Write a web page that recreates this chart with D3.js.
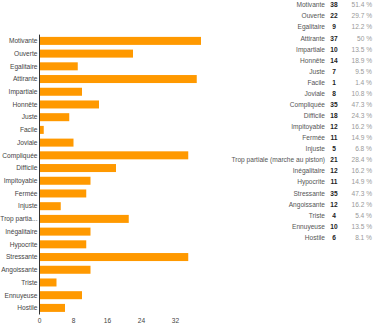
<!DOCTYPE html>
<html><head><meta charset="utf-8">
<script src="https://cdn.jsdelivr.net/npm/d3@7"></script>
<style>html,body{margin:0;padding:0;background:#fff;}svg{display:block;}</style>
</head><body>
<script>
const categories = ["Motivante","Ouverte","Egalitaire","Attirante","Impartiale","Honnête","Juste","Facile","Joviale","Compliquée","Difficile","Impitoyable","Fermée","Injuste","Trop partiale (marche au piston)","Inégalitaire","Hypocrite","Stressante","Angoissante","Triste","Ennuyeuse","Hostile"];
const shortLabels = ["Motivante","Ouverte","Egalitaire","Attirante","Impartiale","Honnête","Juste","Facile","Joviale","Compliquée","Difficile","Impitoyable","Fermée","Injuste","Trop partia...","Inégalitaire","Hypocrite","Stressante","Angoissante","Triste","Ennuyeuse","Hostile"];
const counts = [38,22,9,37,10,14,7,1,8,35,18,12,11,5,21,12,11,35,12,4,10,6];
const percents = ["51.4 %","29.7 %","12.2 %","50 %","13.5 %","18.9 %","9.5 %","1.4 %","10.8 %","47.3 %","24.3 %","16.2 %","14.9 %","6.8 %","28.4 %","16.2 %","14.9 %","47.3 %","16.2 %","5.4 %","13.5 %","8.1 %"];
const xTicks = [0,8,16,24,32];

const W = 373, H = 324;
const svg = d3.select("body").append("svg").attr("width", W).attr("height", H);

const x = d3.scaleLinear().domain([0,40]).range([39.5, 209.5]);
const y = d3.scaleBand().domain(d3.range(categories.length)).range([34.6, 314.2]).paddingInner(0.37).paddingOuter(0.18);

svg.append("g").selectAll("rect").data(counts).join("rect")
  .attr("x", x(0)).attr("y", (d,i)=>y(i))
  .attr("width", d=>x(d)-x(0)).attr("height", y.bandwidth())
  .attr("fill", "#ff9900");

// left labels
svg.append("g").selectAll("text").data(shortLabels).join("text")
  .attr("x", 37.5).attr("y", (d,i)=>y(i)+y.bandwidth()/2)
  .attr("dy", "0.35em").attr("text-anchor","end")
  .attr("font-family","Liberation Sans, Arial, sans-serif").attr("font-size", 6.6)
  .attr("fill","#444").text(d=>d);

// vertical axis line
svg.append("line").attr("x1", x(0)).attr("x2", x(0)).attr("y1", 34.6).attr("y2", 314.5)
  .attr("stroke","#333").attr("stroke-width",1);

// x tick labels
svg.append("g").selectAll("text").data(xTicks).join("text")
  .attr("x", d=>x(d)).attr("y", 322.5).attr("text-anchor","middle")
  .attr("font-family","Liberation Sans, Arial, sans-serif").attr("font-size", 6.6)
  .attr("fill","#444").text(d=>d);

// table on right
const ty = d3.scaleLinear().domain([0, categories.length-1]).range([5, 237.5]);
const tg = svg.append("g").attr("font-family","Liberation Sans, Arial, sans-serif").attr("font-size", 6.6);
tg.selectAll("text.lab").data(categories).join("text").attr("class","lab")
  .attr("x", 325).attr("y",(d,i)=>ty(i)).attr("dy","0.35em").attr("text-anchor","end")
  .attr("fill","#555").text(d=>d);
tg.selectAll("text.cnt").data(counts).join("text").attr("class","cnt")
  .attr("x", 334).attr("y",(d,i)=>ty(i)).attr("dy","0.35em").attr("text-anchor","middle")
  .attr("fill","#222").attr("font-weight","bold").text(d=>d);
tg.selectAll("text.pct").data(percents).join("text").attr("class","pct")
  .attr("x", 372).attr("y",(d,i)=>ty(i)).attr("dy","0.35em").attr("text-anchor","end")
  .attr("fill","#999").text(d=>d);
</script>
</body></html>
